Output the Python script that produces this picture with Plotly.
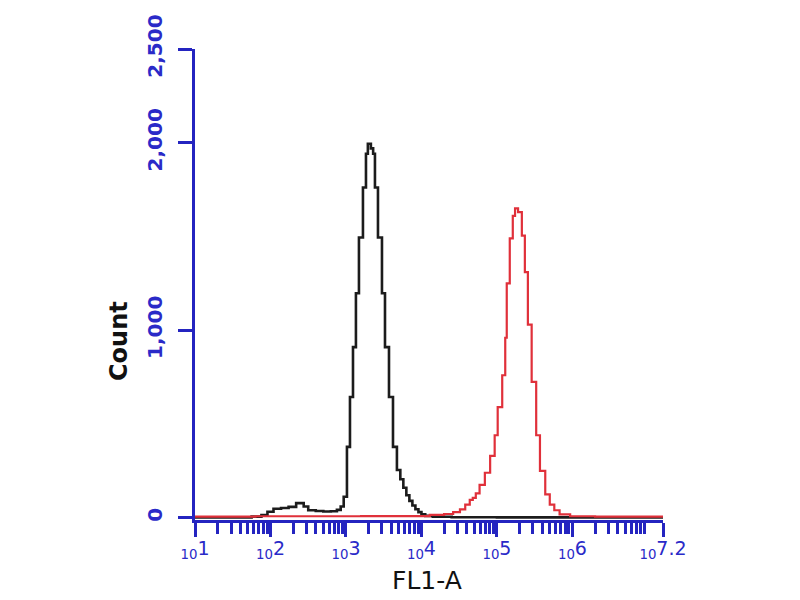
import plotly.graph_objects as go

# ---- data (log10 of FL1-A bin left edge, count) ----
black_log10 = [1.00, 1.75, 1.88, 1.96, 2.04, 2.14, 2.24, 2.34, 2.44, 2.50, 2.60, 2.70, 2.80, 2.88,
               2.93, 2.97, 3.013, 3.053, 3.093, 3.132, 3.172, 3.225, 3.265, 3.29, 3.33, 3.36,
               3.384, 3.424, 3.477, 3.517, 3.570, 3.623, 3.675, 3.72, 3.76, 3.80, 3.84, 3.88,
               3.92, 3.96, 4.00, 4.05, 4.15, 4.40, 5.00, 7.20]
black_count = [2, 6, 15, 32, 48, 52, 58, 78, 60, 40, 36, 33, 35, 42,
               60, 112, 378, 644, 910, 1197, 1495, 1761, 1941, 1995, 1970, 1941,
               1761, 1495, 1197, 910, 644, 378, 255, 205, 160, 120, 90, 65,
               45, 30, 18, 10, 5, 3, 2, 2]

red_log10 = [1.00, 1.80, 2.50, 3.20, 4.11, 4.30, 4.42, 4.51, 4.58, 4.64, 4.68, 4.72, 4.77,
             4.84, 4.91, 4.97, 5.01, 5.07, 5.11, 5.13, 5.17, 5.21, 5.24, 5.28, 5.33, 5.37,
             5.41, 5.46, 5.52, 5.57, 5.64, 5.70, 5.76, 5.83, 5.97, 6.30, 7.20]
red_count = [6, 8, 8, 9, 15, 20, 30, 45, 70, 95, 106, 130, 175,
             240, 330, 440, 590, 760, 960, 1250, 1490, 1610, 1650, 1630, 1505, 1310,
             1030, 725, 440, 250, 125, 70, 40, 18, 8, 6, 6]

x_tick_exp = [1, 2, 3, 4, 5, 6, 7.2]
x_tick_text = ["<sub>10</sub>1", "<sub>10</sub>2", "<sub>10</sub>3", "<sub>10</sub>4",
               "<sub>10</sub>5", "<sub>10</sub>6", "<sub>10</sub>7.2"]
y_tick_vals = [0, 1000, 2000, 2500]
y_tick_text = ["0", "1,000", "2,000", "2,500"]

AXIS_BLUE = "#2424c0"
LABEL_BLUE = "#2a2ac8"

minor_vals = [m * 10 ** d for d in range(1, 8) for m in range(2, 10) if m * 10 ** d < 10 ** 7.2]

fig = go.Figure()
fig.add_trace(go.Scatter(
    x=[10 ** v for v in black_log10], y=black_count, mode="lines",
    line=dict(color="#1c1c1c", width=2.6, shape="hv"), hoverinfo="skip"))
fig.add_trace(go.Scatter(
    x=[10 ** v for v in red_log10], y=red_count, mode="lines",
    line=dict(color="#e0303a", width=2.2, shape="hv"), hoverinfo="skip"))

fig.update_layout(
    width=792, height=592,
    paper_bgcolor="white", plot_bgcolor="white",
    margin=dict(l=187, r=137, t=41, b=80),
    showlegend=False,
    xaxis=dict(
        type="log", range=[1, 7.2], automargin=False,
        tickmode="array", tickvals=[10 ** e for e in x_tick_exp], ticktext=x_tick_text,
        ticks="outside", ticklen=14, tickwidth=2.5, tickcolor=AXIS_BLUE,
        showline=True, linecolor=AXIS_BLUE, linewidth=2.5,
        showgrid=False, zeroline=False,
        ticklabelstandoff=-5,
        tickfont=dict(family="DejaVu Sans", size=19, color=LABEL_BLUE),
        minor=dict(tickmode="array", tickvals=minor_vals, ticks="outside", ticklen=11,
                   tickwidth=2.5, tickcolor=AXIS_BLUE, showgrid=False),
    ),
    yaxis=dict(
        range=[-12, 2500], automargin=False,
        tickmode="array", tickvals=y_tick_vals, ticktext=y_tick_text,
        tickangle=-90,
        ticks="outside", ticklen=14, tickwidth=2.5, tickcolor=AXIS_BLUE,
        showline=True, linecolor=AXIS_BLUE, linewidth=2.5,
        showgrid=False, zeroline=False,
        ticklabelstandoff=8,
        tickfont=dict(family="DejaVu Sans", size=20, color=LABEL_BLUE, weight="bold"),
    ),
    annotations=[
        dict(text="Count", xref="paper", yref="paper", x=(119 - 195) / 468, y=(520 - 341) / 471,
             textangle=-90, showarrow=False, xanchor="center", yanchor="middle",
             font=dict(family="DejaVu Sans", size=24, color="#111111", weight="bold")),
        dict(text="FL1-A", xref="paper", yref="paper", x=(427 - 195) / 468, y=(520 - 580) / 471,
             showarrow=False, xanchor="center", yanchor="middle",
             font=dict(family="DejaVu Sans", size=25, color="#111111")),
    ],
)

fig.write_html("out.html")
